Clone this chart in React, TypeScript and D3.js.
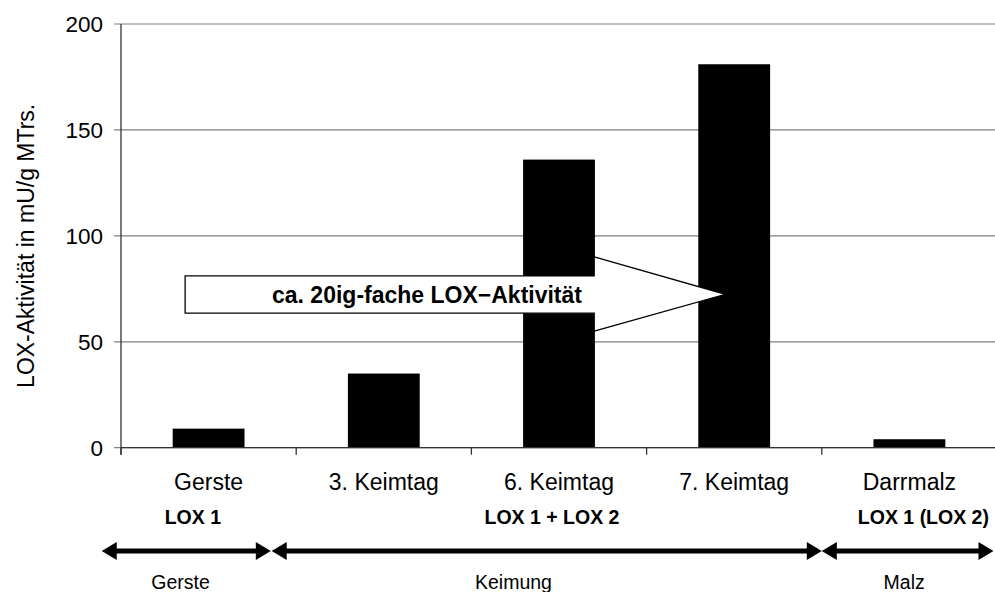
import React from "react";
import * as d3 from "d3";

// LOX activity per sampling stage
const categories: string[] = ["Gerste", "3. Keimtag", "6. Keimtag", "7. Keimtag", "Darrmalz"];
const values: number[] = [9, 35, 136, 181, 4];
const yTicks: number[] = [0, 50, 100, 150, 200];

// Enzyme labels under the category axis
const enzymeLabels: string[] = ["LOX 1", "LOX 1 + LOX 2", "LOX 1 (LOX 2)"];
const enzymePos: number[] = [0.41, 2.46, 4.58];

// Process phases (start/end in category units)
const phaseNames: string[] = ["Gerste", "Keimung", "Malz"];
const phaseStart: number[] = [-0.11, 0.86, 4.0];
const phaseEnd: number[] = [0.855, 4.0, 4.98];
const phaseLabelPos: number[] = [0.34, 2.24, 4.47];

// Highlight arrow (category units / data values)
const noteText = "ca. 20ig-fache LOX\u2212Aktivität";
const noteX: number[] = [0.366, 2.701, 3.45];
const noteY: number[] = [90.1, 81.1, 72.4, 63.5, 55.0];

const W = 995;
const H = 592;
const left = 121;
const top = 24;
const bottom = 447.7;
const right = 997;
const font = "Arial, 'Liberation Sans', sans-serif";

export default function App() {
  const x = d3.scaleBand<string>().domain(categories).range([left, right]).padding(0);
  const xc = d3.scaleLinear().domain([0, categories.length]).range([left, right]);
  const y = d3.scaleLinear().domain([0, 200]).range([bottom, top]);
  const bw = x.bandwidth();
  const barW = bw * 0.41;

  const arrowPath = d3.path();
  arrowPath.moveTo(xc(noteX[0]), y(noteY[1]));
  arrowPath.lineTo(xc(noteX[1]), y(noteY[1]));
  arrowPath.lineTo(xc(noteX[1]), y(noteY[0]));
  arrowPath.lineTo(xc(noteX[2]), y(noteY[2]));
  arrowPath.lineTo(xc(noteX[1]), y(noteY[4]));
  arrowPath.lineTo(xc(noteX[1]), y(noteY[3]));
  arrowPath.lineTo(xc(noteX[0]), y(noteY[3]));
  arrowPath.closePath();

  const phaseY = 551;
  const headL = 15;
  const headH = 9;

  return (
    <svg
      width={W}
      height={H}
      style={{ position: "absolute", left: 0, top: 0, background: "#fff" }}
      fontFamily={font}
    >
      {/* gridlines */}
      {yTicks.map((t) => (
        <line key={"g" + t} x1={left - 7} x2={right} y1={y(t)} y2={y(t)} stroke="#808080" strokeWidth={1.2} />
      ))}
      {/* bars */}
      {categories.map((c, i) => (
        <rect key={c} x={x(c)! + (bw - barW) / 2} y={y(values[i])} width={barW} height={y(0) - y(values[i])} fill="#000" />
      ))}
      {/* axes */}
      <line x1={left} x2={left} y1={top} y2={bottom + 7} stroke="#333" strokeWidth={1.3} />
      <line x1={left} x2={right} y1={bottom} y2={bottom} stroke="#333" strokeWidth={1.3} />
      {categories.map((c) => (
        <line key={"t" + c} x1={x(c)!} x2={x(c)!} y1={bottom} y2={bottom + 7} stroke="#333" strokeWidth={1.3} />
      ))}
      {yTicks.map((t) => (
        <text key={"l" + t} x={103} y={y(t)} dy="0.36em" textAnchor="end" fontSize={22.5} fill="#000">
          {t}
        </text>
      ))}
      <text
        transform={`translate(34,${(top + bottom) / 2 + 10}) rotate(-90)`}
        textAnchor="middle"
        fontSize={23}
        fill="#000"
      >
        LOX-Aktivität in mU/g MTrs.
      </text>
      {categories.map((c) => (
        <text key={"c" + c} x={x(c)! + bw / 2} y={490} textAnchor="middle" fontSize={23} fill="#000">
          {c}
        </text>
      ))}
      {enzymeLabels.map((l, i) => (
        <text key={l} x={xc(enzymePos[i])} y={524} textAnchor="middle" fontSize={19.5} fontWeight="bold" fill="#000">
          {l}
        </text>
      ))}
      {/* phase arrows */}
      {phaseNames.map((p, i) => {
        const a = xc(phaseStart[i]);
        const b = xc(phaseEnd[i]);
        return (
          <g key={"p" + p}>
            <line x1={a + headL - 1} x2={b - headL + 1} y1={phaseY} y2={phaseY} stroke="#000" strokeWidth={5} />
            <path d={`M${a},${phaseY} L${a + headL},${phaseY - headH} L${a + headL},${phaseY + headH} Z`} fill="#000" />
            <path d={`M${b},${phaseY} L${b - headL},${phaseY - headH} L${b - headL},${phaseY + headH} Z`} fill="#000" />
            <text x={xc(phaseLabelPos[i])} y={589} textAnchor="middle" fontSize={19.5} fill="#000">
              {p}
            </text>
          </g>
        );
      })}
      {/* highlight arrow */}
      <path d={arrowPath.toString()} fill="#fff" stroke="#000" strokeWidth={1.3} />
      <text
        x={427}
        y={y(noteY[2])}
        dy="0.36em"
        textAnchor="middle"
        fontSize={23}
        fontWeight="bold"
        fill="#000"
      >
        {noteText}
      </text>
    </svg>
  );
}
